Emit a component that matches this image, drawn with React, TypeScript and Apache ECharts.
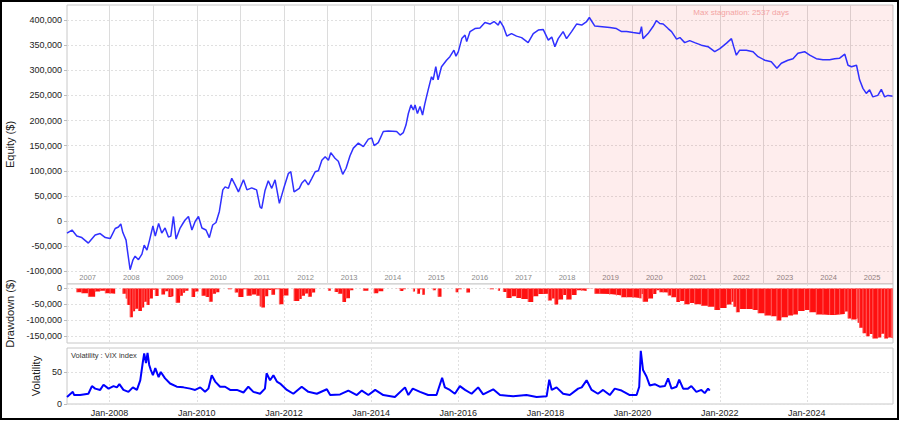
import React, { useEffect, useRef } from "react";
import * as echarts from "echarts";

// ---------- data ----------
const equityDates = [
  "2007-01-09","2007-02-20","2007-04-01","2007-05-13","2007-07-07","2007-09-02","2007-10-14","2007-11-26",
  "2008-01-06","2008-02-17","2008-03-15","2008-04-04","2008-04-21","2008-05-18","2008-05-29","2008-06-21",
  "2008-07-14","2008-08-02","2008-08-30","2008-09-28","2008-10-17","2008-11-09","2008-12-01","2008-12-29",
  "2009-01-18","2009-02-15","2009-03-13","2009-04-10","2009-05-08","2009-05-28","2009-06-19","2009-07-11",
  "2009-08-14","2009-09-06","2009-09-25","2009-10-23","2009-11-21","2009-12-18",
  "2010-01-15","2010-02-13","2010-03-19","2010-04-16","2010-05-14","2010-06-11","2010-07-09","2010-08-07",
  "2010-08-26","2010-09-23","2010-10-21","2010-11-18","2010-12-16",
  "2011-01-27","2011-02-25","2011-04-06","2011-05-17","2011-06-15","2011-06-29","2011-07-26","2011-08-23",
  "2011-09-21","2011-10-19","2011-11-24","2011-12-28",
  "2012-02-08","2012-02-28","2012-03-26","2012-05-09","2012-05-29","2012-06-26","2012-07-24","2012-08-22",
  "2012-09-19","2012-10-16","2012-11-14","2012-12-12",
  "2013-01-08","2013-01-28","2013-03-04","2013-04-01","2013-05-08","2013-06-05","2013-07-08","2013-08-05",
  "2013-09-16","2013-10-28","2013-12-09",
  "2014-01-07","2014-01-26","2014-03-02","2014-04-13","2014-05-25","2014-08-03","2014-09-01","2014-09-28",
  "2014-10-20","2014-11-09","2014-12-01","2014-12-21",
  "2015-01-04","2015-01-24","2015-02-15","2015-03-08","2015-03-27","2015-04-24","2015-05-22","2015-06-05",
  "2015-06-27","2015-07-16","2015-08-14","2015-09-25","2015-10-23","2015-11-26","2015-12-13",
  "2016-01-02","2016-01-31","2016-02-27","2016-03-12","2016-04-09","2016-05-20","2016-07-01","2016-08-12",
  "2016-09-23","2016-10-27","2016-12-02","2016-12-16",
  "2017-01-13","2017-02-11","2017-03-23","2017-05-04","2017-06-15","2017-08-09","2017-09-21","2017-11-02",
  "2017-12-14",
  "2018-01-25","2018-02-23","2018-03-21","2018-04-18","2018-05-29","2018-06-27","2018-08-08","2018-09-19",
  "2018-11-01","2018-12-12",
  "2019-01-04","2019-02-19","2019-04-01","2019-06-24","2019-08-19","2019-10-01","2019-11-12",
  "2020-01-06","2020-03-02","2020-03-16","2020-03-29","2020-05-10","2020-06-21","2020-07-19","2020-08-16",
  "2020-09-14","2020-10-25","2020-11-23",
  "2021-01-04","2021-02-01","2021-03-13","2021-04-24","2021-06-05","2021-07-31","2021-09-25","2021-11-20",
  "2022-01-02","2022-02-27","2022-04-09","2022-04-28","2022-05-20","2022-06-17","2022-08-12","2022-10-07",
  "2022-11-18",
  "2023-01-14","2023-03-09","2023-04-25","2023-06-01","2023-07-26","2023-09-07","2023-10-18","2023-12-13",
  "2024-01-25","2024-03-20","2024-05-15","2024-07-10","2024-08-21","2024-10-02","2024-11-14","2024-12-11",
  "2025-01-09","2025-02-20","2025-03-04","2025-03-18","2025-04-15","2025-05-13","2025-06-10","2025-07-07",
  "2025-08-18","2025-09-16","2025-10-14","2025-11-11","2025-12-09","2025-12-19",
];
const equityValues = [
  -24000,-18000,-30000,-33000,-44000,-28000,-25000,-33000,
  -35000,-15000,-12000,-6000,-23000,-38000,-58000,-97000,
  -78000,-70000,-77000,-66000,-48000,-58000,-38000,-10000,
  -30000,-5000,-24000,-14000,-32000,-30000,9000,-36000,
  -14000,-5000,2000,9000,-18000,-1000,
  9000,-14000,-18000,-33000,-8000,-3000,19000,62000,
  68000,65000,85000,72000,58000,
  82000,62000,66000,62000,28000,25000,60000,80000,
  65000,82000,35000,63000,
  95000,98000,58000,65000,75000,82000,72000,85000,
  98000,100000,121000,128000,
  121000,136000,125000,119000,93000,105000,130000,145000,
  155000,148000,163000,
  165000,150000,156000,178000,179000,178000,171000,176000,
  191000,214000,231000,221000,
  231000,214000,228000,211000,233000,261000,287000,281000,
  307000,281000,307000,320000,327000,340000,328000,
  337000,363000,370000,357000,377000,383000,384000,395000,
  392000,397000,390000,398000,
  387000,368000,373000,368000,365000,355000,373000,380000,
  381000,
  360000,366000,347000,363000,377000,363000,377000,392000,
  390000,397000,
  405000,388000,387000,385000,383000,377000,377000,
  375000,373000,387000,363000,373000,387000,399000,393000,
  392000,383000,377000,
  362000,365000,355000,359000,355000,350000,347000,337000,
  343000,354000,363000,347000,330000,340000,340000,337000,
  327000,
  320000,317000,304000,314000,320000,323000,334000,337000,
  330000,323000,321000,321000,323000,324000,332000,310000,
  307000,310000,297000,281000,264000,254000,261000,247000,
  250000,262000,247000,250000,249000,248000,
];

const vixDates = [
  "2007-01-09","2007-02-27","2007-03-10","2007-04-29","2007-07-07","2007-08-06","2007-09-02","2007-10-14",
  "2007-11-11","2007-12-23","2008-02-03","2008-03-02","2008-03-23","2008-04-26","2008-06-07","2008-07-14",
  "2008-08-17","2008-09-14","2008-10-06","2008-10-17","2008-11-01","2008-11-14","2008-11-28","2008-12-12",
  "2008-12-29","2009-01-18","2009-02-15","2009-03-05","2009-04-10","2009-05-22","2009-07-17","2009-09-11",
  "2009-11-07","2009-12-18","2010-01-30","2010-03-11","2010-04-08","2010-05-06","2010-06-04","2010-07-15",
  "2010-08-26","2010-10-07","2010-12-03","2011-01-27","2011-03-09","2011-04-20","2011-06-15","2011-07-26",
  "2011-08-09","2011-09-07","2011-10-05","2011-11-03","2011-11-30","2012-01-26","2012-03-20","2012-05-29",
  "2012-07-24","2012-10-03","2012-12-26","2013-01-23","2013-04-16","2013-06-24","2013-09-03","2013-10-15",
  "2013-12-09","2014-02-04","2014-04-13","2014-07-19","2014-10-12","2014-11-09","2014-12-16","2015-02-15",
  "2015-04-24","2015-07-03","2015-08-19","2015-09-11","2015-10-23","2015-12-04","2016-01-15","2016-02-27",
  "2016-04-22","2016-06-16","2016-07-28","2016-10-20","2016-12-16","2017-04-05","2017-07-26","2017-10-19",
  "2018-01-11","2018-02-02","2018-02-23","2018-04-04","2018-05-29","2018-07-24","2018-10-02","2018-11-01",
  "2018-12-12","2019-01-23","2019-03-17","2019-04-29","2019-06-24","2019-08-05","2019-10-01","2019-12-09",
  "2020-02-04","2020-02-26","2020-03-10","2020-03-29","2020-04-27","2020-05-24","2020-07-05","2020-08-16",
  "2020-09-28","2020-10-25","2020-11-23","2021-01-04","2021-01-26","2021-02-28","2021-04-10","2021-05-08",
  "2021-06-19","2021-07-31","2021-08-28","2021-09-25","2021-10-09",
];
const vixValues = [
  11,19,14,14,16,28,24,22,
  30,24,28,26,31,22,19,26,
  22,37,66,79,64,80,61,53,
  45,56,42,50,40,32,27,26,
  24,22,26,19,24,45,35,27,
  27,22,22,18,27,19,16,24,
  48,37,45,35,32,22,16,27,
  19,16,23,14,15,21,14,21,
  14,22,14,11,26,14,24,19,
  14,14,41,26,22,16,28,22,
  16,26,15,23,14,12,14,11,
  12,38,22,26,16,14,24,26,
  37,22,16,22,14,24,21,14,
  14,27,83,53,43,29,31,27,
  28,40,24,27,38,24,24,28,
  19,22,17,24,21,
];

const yearLabels = ["2007","2008","2009","2010","2011","2012","2013","2014","2015","2016","2017","2018","2019","2020","2021","2022","2023","2024","2025"];
const bottomTickLabels = ["Jan-2008","Jan-2010","Jan-2012","Jan-2014","Jan-2016","Jan-2018","Jan-2020","Jan-2022","Jan-2024"];
const equityTicks = [-100000,-50000,0,50000,100000,150000,200000,250000,300000,350000,400000];
const drawdownTicks = [0,-50000,-100000,-150000];
const vixTicks = [0,50];
const stagnationStart = "2019-01-04";
const stagnationLabel = "Max stagnation: 2537 days";
const axisStart = "2007-01-09";
const axisEnd = "2025-12-23";

// ---------- helpers ----------
const toTs = (s: string) => {
  const [y, m, d] = s.split("-").map(Number);
  return Date.UTC(y, m - 1, d);
};
const fmtNum = (v: number) => {
  const s = Math.abs(Math.round(v)).toString().replace(/\B(?=(\d{3})+(?!\d))/g, ",");
  return (v < 0 ? "-" : "") + s;
};

const FONT = "'Liberation Sans', Arial, Helvetica, sans-serif";

export default function App() {
  const ref = useRef<HTMLDivElement>(null);

  useEffect(() => {
    if (!ref.current) return;
    const chart = echarts.init(ref.current, undefined, { renderer: "svg" });

    const T0 = toTs(axisStart);
    const T1 = toTs(axisEnd);

    const eq = equityDates.map((d, i) => [toTs(d), equityValues[i]]);
    let peak = -Infinity;
    const dd = equityDates.map((d, i) => {
      peak = Math.max(peak, equityValues[i]);
      return [toTs(d), equityValues[i] - peak];
    });
    const vix = vixDates.map((d, i) => [toTs(d), vixValues[i]]);

    const yearLines = yearLabels.slice(1).map((y) => Date.UTC(Number(y), 0, 1));
    const yearMid = yearLabels.map((y) => Date.UTC(Number(y), 6, 1));
    const twoYear = bottomTickLabels.map((l) => Date.UTC(Number(l.split("-")[1]), 0, 1));

    const gridCommon = {
      left: 67,
      right: 7,
      show: true,
      backgroundColor: "#fff",
      borderColor: "#c8c8c8",
      borderWidth: 1,
      containLabel: false,
      outerBoundsMode: "none",
    };

    const dashed = { color: "#e0e0e0", type: [2, 2] as any, width: 1 };

    const option: any = {
      animation: false,
      backgroundColor: "#fff",
      textStyle: { fontFamily: FONT },
      grid: [
        { ...gridCommon, top: 5, height: 279 },
        { ...gridCommon, top: 284, height: 59 },
        { ...gridCommon, top: 348, height: 56 },
      ],
      xAxis: [
        {
          type: "value",
          gridIndex: 0,
          min: T0,
          max: T1,
          axisLine: { show: false },
          axisTick: { show: false, customValues: yearLines },
          splitLine: { show: true, lineStyle: { color: "#dcdcdc", width: 1 } },
          axisLabel: {
            show: true,
            inside: true,
            margin: 3,
            customValues: yearMid,
            color: "#8a8a8a",
            fontSize: 7.5,
            fontFamily: FONT,
            formatter: (v: number) => String(new Date(v).getUTCFullYear()),
          },
        },
        {
          type: "value",
          gridIndex: 1,
          min: T0,
          max: T1,
          axisLine: { show: false },
          axisTick: { show: false, customValues: twoYear },
          splitLine: { show: true, lineStyle: dashed },
          axisLabel: { show: false, customValues: twoYear },
        },
        {
          type: "value",
          gridIndex: 2,
          min: T0,
          max: T1,
          axisLine: { show: false },
          axisTick: { show: false, customValues: twoYear },
          splitLine: { show: true, lineStyle: dashed },
          axisLabel: {
            show: true,
            margin: 4,
            customValues: twoYear,
            color: "#222",
            fontSize: 9,
            fontFamily: FONT,
            formatter: (v: number) => "Jan-" + new Date(v).getUTCFullYear(),
          },
        },
      ],
      yAxis: [
        {
          type: "value",
          gridIndex: 0,
          min: -125400,
          max: 429900,
          name: "Equity ($)",
          nameLocation: "middle",
          nameGap: 45,
          nameTextStyle: { color: "#222", fontSize: 11, fontFamily: FONT },
          axisLine: { show: false },
          axisTick: { show: true, length: 3, lineStyle: { color: "#bbb" }, customValues: equityTicks },
          splitLine: { show: true, lineStyle: dashed },
          axisLabel: {
            customValues: equityTicks,
            margin: 5,
            color: "#222",
            fontSize: 9,
            fontFamily: FONT,
            formatter: (v: number) => fmtNum(v),
          },
        },
        {
          type: "value",
          gridIndex: 1,
          min: -172000,
          max: 13900,
          name: "Drawdown ($)",
          nameLocation: "middle",
          nameGap: 45,
          nameTextStyle: { color: "#222", fontSize: 11, fontFamily: FONT },
          axisLine: { show: false },
          axisTick: { show: true, length: 3, lineStyle: { color: "#bbb" }, customValues: drawdownTicks },
          splitLine: { show: true, lineStyle: dashed },
          axisLabel: {
            customValues: drawdownTicks,
            margin: 5,
            color: "#222",
            fontSize: 9,
            fontFamily: FONT,
            formatter: (v: number) => fmtNum(v),
          },
        },
        {
          type: "value",
          gridIndex: 2,
          min: 0,
          max: 87.5,
          name: "Volatility",
          nameLocation: "middle",
          nameGap: 20,
          nameTextStyle: { color: "#222", fontSize: 11, fontFamily: FONT },
          axisLine: { show: false },
          axisTick: { show: true, length: 3, lineStyle: { color: "#bbb" }, customValues: vixTicks },
          splitLine: { show: true, lineStyle: dashed },
          axisLabel: {
            customValues: vixTicks,
            margin: 5,
            color: "#222",
            fontSize: 9,
            fontFamily: FONT,
          },
        },
      ],
      series: [
        {
          name: "Equity",
          type: "line",
          xAxisIndex: 0,
          yAxisIndex: 0,
          data: eq,
          showSymbol: false,
          symbol: "none",
          lineStyle: { color: "#3030ff", width: 1.5 },
          z: 3,
          markArea: {
            silent: true,
            itemStyle: { color: "rgba(240,0,0,0.07)" },
            label: {
              show: true,
              position: "insideTop",
              distance: 3,
              color: "#f3a3a3",
              fontSize: 8,
              fontFamily: FONT,
              formatter: stagnationLabel,
            },
            data: [[{ xAxis: toTs(stagnationStart) }, { xAxis: T1 }]],
          },
        },
        {
          name: "Drawdown",
          type: "line",
          step: "end",
          xAxisIndex: 1,
          yAxisIndex: 1,
          data: dd,
          showSymbol: false,
          symbol: "none",
          lineStyle: { width: 0, color: "#ff0000" },
          areaStyle: { color: "#ff1010", opacity: 1 },
        },
        {
          name: "Drawdown bars",
          type: "bar",
          xAxisIndex: 1,
          yAxisIndex: 1,
          data: dd,
          barWidth: 1,
          itemStyle: { color: "#ff6060" },
          z: 3,
        },
        {
          name: "Volatility",
          type: "line",
          xAxisIndex: 2,
          yAxisIndex: 2,
          data: vix,
          showSymbol: false,
          symbol: "none",
          lineStyle: { color: "#0000ff", width: 2 },
        },
      ],
      graphic: [
        {
          type: "text",
          left: 71,
          top: 351,
          style: { text: "Volatility : VIX index", fill: "#333", fontSize: 7.5, fontFamily: FONT },
        },
        {
          type: "rect",
          shape: { x: 1, y: 1, width: 897, height: 418 },
          style: { fill: "none", stroke: "#000", lineWidth: 2 },
          silent: true,
          z: 100,
        },
      ],
    };

    chart.setOption(option);
    return () => chart.dispose();
  }, []);

  return (
    <div
      ref={ref}
      style={{ position: "absolute", left: 0, top: 0, width: 900, height: 421, background: "#fff" }}
    />
  );
}
